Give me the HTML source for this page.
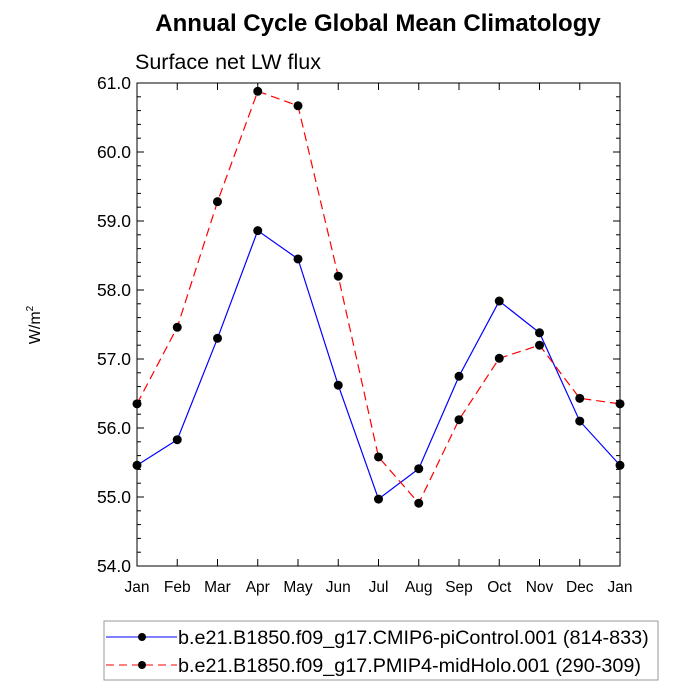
<!DOCTYPE html>
<html><head><meta charset="utf-8"><style>
body{margin:0;background:#fff}
svg{display:block;font-family:"Liberation Sans",sans-serif}
</style></head><body>
<svg id="chart" width="700" height="700">
<text x="378" y="31" text-anchor="middle" font-size="24" font-weight="bold">Annual Cycle Global Mean Climatology</text>
<text x="135" y="69" font-size="21.5">Surface net LW flux</text>
<text transform="translate(40,325) rotate(-90)" text-anchor="middle" font-size="16">W/m<tspan dy="-7" font-size="10">2</tspan></text>
<rect x="137" y="83" width="483" height="483" fill="none" stroke="#000" stroke-width="1"/>
<g id="axes"></g><g id="series"></g>
<rect x="104" y="621" width="554" height="59" fill="#fff" stroke="#999"/>
<g>
<line x1="106" y1="637" x2="177" y2="637" stroke="#00f"/><circle cx="142" cy="637" r="4" fill="#000"/>
<text x="178" y="644" font-size="19.8">b.e21.B1850.f09_g17.CMIP6-piControl.001 (814-833)</text></g>
<g>
<line x1="106" y1="665" x2="177" y2="665" stroke="#f00" stroke-dasharray="8,5"/><circle cx="142" cy="665" r="4" fill="#000"/>
<text x="178" y="672" font-size="19.8">b.e21.B1850.f09_g17.PMIP4-midHolo.001 (290-309)</text></g>
</svg>
<script>
const months=["Jan","Feb","Mar","Apr","May","Jun","Jul","Aug","Sep","Oct","Nov","Dec","Jan"];
const piControl=[55.46,55.83,57.30,58.86,58.45,56.62,54.97,55.41,56.75,57.84,57.38,56.10,55.46];
const midHolo=[56.35,57.46,59.28,60.88,60.67,58.20,55.58,54.91,56.12,57.01,57.20,56.43,56.35];
const yTicks=[54,55,56,57,58,59,60,61];
const NS="http://www.w3.org/2000/svg";
const X0=137,X1=620,Y0=566,Y1=83,YMIN=54,YMAX=61;
const xs=i=>X0+(X1-X0)*i/(months.length-1);
const ys=v=>Y0-(v-YMIN)/(YMAX-YMIN)*(Y0-Y1);
function mk(t,a,p){const e=document.createElementNS(NS,t);for(const k in a)e.setAttribute(k,a[k]);p.appendChild(e);return e;}
const ax=document.getElementById('axes'),se=document.getElementById('series');
months.forEach((m,i)=>{const x=xs(i);
mk('line',{x1:x,x2:x,y1:Y0,y2:Y0-7,stroke:'#000'},ax);
mk('line',{x1:x,x2:x,y1:Y1,y2:Y1+7,stroke:'#000'},ax);
const t=mk('text',{x:x,y:Y0+26,'text-anchor':'middle','font-size':'15.5'},ax);t.textContent=m;

});
for(let v=YMIN;v<=YMAX+1e-9;v+=0.2){const y=ys(v);const maj=Math.abs(v-Math.round(v))<1e-6;const L=maj?7:4;
mk('line',{x1:X0,x2:X0+L,y1:y,y2:y,stroke:'#000'},ax);mk('line',{x1:X1,x2:X1-L,y1:y,y2:y,stroke:'#000'},ax);}
yTicks.forEach(v=>{const t=mk('text',{x:X0-6,y:ys(v)+6,'text-anchor':'end','font-size':'17.5'},ax);t.textContent=v.toFixed(1);

});
function draw(vals,col,dash,name){
const p=mk('polyline',{points:vals.map((v,i)=>xs(i)+','+ys(v)).join(' '),fill:'none',stroke:col,'stroke-width':1.2,'stroke-dasharray':dash},se);


vals.forEach((v,i)=>{const c=mk('circle',{cx:xs(i),cy:ys(v),r:4.5,fill:'#000'},se);

});}
draw(piControl,'#00f','none','picontrol');
draw(midHolo,'#f00','9,5','midholo');
</script>
</body></html>
